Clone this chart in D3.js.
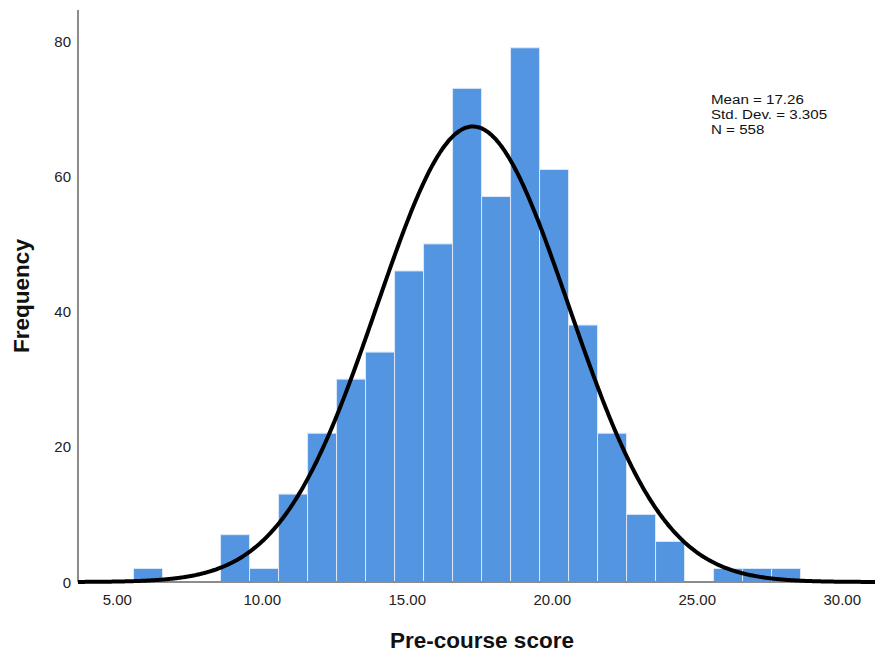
<!DOCTYPE html>
<html>
<head>
<meta charset="utf-8">
<script src="https://cdn.jsdelivr.net/npm/d3@7"></script>
<style>
  body { margin: 0; background: #fff; }
  text { font-family: "Liberation Sans", Arial, sans-serif; }
</style>
</head>
<body>
<svg id="chart" width="875" height="655"></svg>
<script>
// bin centres (score) and counts
var binCenters = [6, 9, 10, 11, 12, 13, 14, 15, 16, 17, 18, 19, 20, 21, 22, 23, 24, 26, 27, 28];
var counts     = [2, 7, 2, 13, 22, 30, 34, 46, 50, 73, 57, 79, 61, 38, 22, 10, 6, 2, 2, 2];
var xTicks = [5, 10, 15, 20, 25, 30];
var yTicks = [0, 20, 40, 60, 80];
var statLabels = ["Mean = 17.26", "Std. Dev. = 3.305", "N = 558"];
var meanVal = 17.26, sdVal = 3.305, nVal = 558, binWidth = 1;

var svg = d3.select("#chart");

var x = d3.scaleLinear().domain([5, 30]).range([117.3, 842.3]);
var y = d3.scaleLinear().domain([0, 80]).range([582, 41]);
var xLeft = 78, xRight = 875, yTop = 10;

// bars
svg.append("g").selectAll("rect")
  .data(binCenters)
  .enter()
  .append("rect")
  .attr("x", function(d) { return x(d - 0.44); })
  .attr("width", function(d) { return x(d + 0.56) - x(d - 0.44); })
  .attr("y", function(d, i) { return y(counts[i]); })
  .attr("height", function(d, i) { return y(0) - y(counts[i]); })
  .attr("fill", "#5495e2")
  .attr("stroke", "#dce8f8")
  .attr("stroke-width", 1);

// axes lines
svg.append("line")
  .attr("x1", xLeft).attr("x2", xLeft)
  .attr("y1", yTop).attr("y2", y(0))
  .attr("stroke", "#8c8c8c").attr("stroke-width", 2);
svg.append("line")
  .attr("x1", xLeft).attr("x2", xRight)
  .attr("y1", y(0)).attr("y2", y(0))
  .attr("stroke", "#8c8c8c").attr("stroke-width", 2);

// tick labels
svg.append("g").selectAll("text")
  .data(yTicks)
  .enter()
  .append("text")
  .attr("x", 71)
  .attr("y", function(d) { return y(d) + 5.5; })
  .attr("text-anchor", "end")
  .attr("font-size", 15)
  .attr("fill", "#222")
  .text(function(d) { return d; });

svg.append("g").selectAll("text")
  .data(xTicks)
  .enter()
  .append("text")
  .attr("x", function(d) { return x(d); })
  .attr("y", 605)
  .attr("text-anchor", "middle")
  .attr("font-size", 15)
  .attr("fill", "#222")
  .text(function(d) { return d3.format(".2f")(d); });

// normal curve from the reported statistics
var curveX = d3.range(x.invert(xLeft), x.invert(xRight) + 0.05, 0.05);
var normal = function(v) {
  var z = (v - meanVal) / sdVal;
  return nVal * binWidth * Math.exp(-0.5 * z * z) / (sdVal * Math.sqrt(2 * Math.PI));
};
var line = d3.line()
  .x(function(d) { return x(d); })
  .y(function(d) { return y(normal(d)); })
  .curve(d3.curveBasis);

svg.append("path")
  .datum(curveX)
  .attr("d", line)
  .attr("fill", "none")
  .attr("stroke", "#000")
  .attr("stroke-width", 4);

// stats box
svg.append("g")
  .attr("transform", "translate(711,0) scale(1.12,1)")
  .selectAll("text")
  .data(statLabels)
  .enter()
  .append("text")
  .attr("x", 0)
  .attr("y", function(d, i) { return 104 + i * 15; })
  .attr("font-size", 13.5)
  .attr("fill", "#111")
  .text(function(d) { return d; });

// axis titles
svg.append("text")
  .attr("x", 482)
  .attr("y", 648)
  .attr("text-anchor", "middle")
  .attr("font-size", 22.5)
  .attr("font-weight", "bold")
  .attr("fill", "#111")
  .text("Pre-course score");

svg.append("text")
  .attr("transform", "translate(29,296) rotate(-90)")
  .attr("text-anchor", "middle")
  .attr("font-size", 22.5)
  .attr("font-weight", "bold")
  .attr("fill", "#111")
  .text("Frequency");
</script>
</body>
</html>
